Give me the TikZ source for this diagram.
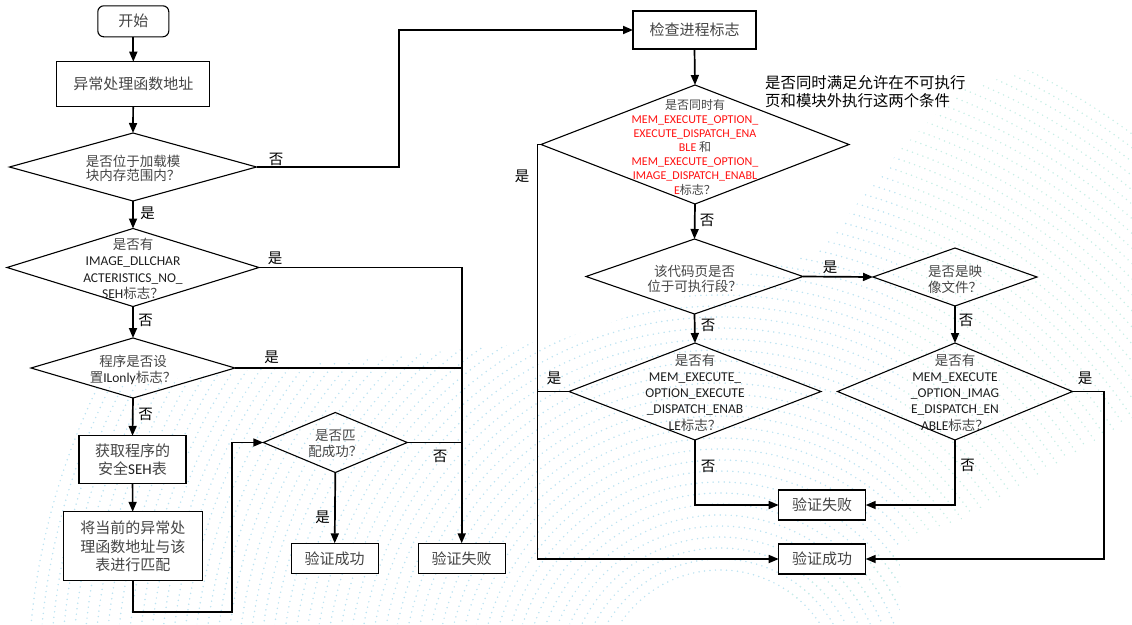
\documentclass[tikz,border=0pt]{standalone}
\usepackage{fontspec}
\setmainfont{Noto Sans CJK SC}
\newfontfamily\lat{Carlito}
\usetikzlibrary{shapes.geometric,arrows.meta}
\definecolor{txt}{HTML}{454545}
\definecolor{latc}{HTML}{1E1E1E}
\definecolor{redt}{HTML}{FF1010}
\definecolor{dotc}{HTML}{BDE3F2}
\definecolor{dott}{HTML}{C8EEE6}
\newcommand\en[1]{{\lat\color{latc}#1}}
\newcommand\rd[1]{{\lat\color{redt}#1}}
\tikzset{
  box/.style={draw=black, line width=1.1pt, fill=white, inner sep=0pt, outer sep=0pt,
    text=txt, align=center, font=\fontsize{15}{18.2}\selectfont},
  dia/.style={draw=black, shape=diamond, line width=1.1pt, inner sep=0pt, outer sep=0pt},
  dtext/.style={text=txt, align=center, inner sep=0pt},
  lab/.style={text=black, inner sep=0pt, font=\fontsize{14.5}{16}\selectfont},
  conn/.style={draw=black, line width=1.7pt},
  arr/.style={conn, -{Triangle[length=10pt,width=8pt]}},
}
\begin{document}
\begin{tikzpicture}[x=1pt,y=-1pt]
\useasboundingbox (0,0) rectangle (1132,624);
% faint dotted background
\begin{scope}
\clip (0,400) -- (250,370) -- (560,340) -- (820,250) -- (900,150) -- (900,624) -- (560,624) -- (0,624) -- cycle;
\foreach \r in {120,131,...,700}{
  \draw[dotc, line width=1.7pt, line cap=round, dash pattern=on 0pt off 5.5pt] (720,690) circle[radius=\r];
}
\end{scope}
\begin{scope}
\clip (900,150) -- (960,90) -- (1132,40) -- (1132,420) -- (960,520) -- (760,600) -- (900,600) -- cycle;
\foreach \r in {120,131,...,700}{
  \draw[dott, line width=1.7pt, line cap=round, dash pattern=on 0pt off 5.5pt] (720,690) circle[radius=\r];
}
\end{scope}

% left column
\node[box, rounded corners=6pt, minimum width=71pt, minimum height=31pt] (start) at (133.3,21.3) {开始};
\node[box, minimum width=153pt, minimum height=45pt] (addr) at (133.3,84.2) {异常处理函数地址};
\node[dia, minimum width=247pt, minimum height=68pt] (d1) at (133,167) {};
\node[dtext, font=\fontsize{13.5}{14.5}\selectfont] (d1t) at (133,168.5) {是否位于加载模\\块内存范围内？};
\node[dia, minimum width=252pt, minimum height=78pt] (d2) at (133,267.5) {};
\node[dtext, font=\fontsize{13.5}{16.4}\selectfont] (d2t) at (133,269) {是否有\\\en{IMAGE\_DLLCHAR}\\\en{ACTERISTICS\_NO\_}\\\en{SEH}标志？};
\node[dia, minimum width=204pt, minimum height=60pt] (d3) at (133,368) {};
\node[dtext, font=\fontsize{13.5}{16}\selectfont] (d3t) at (133,369.5) {程序是否设\\置\en{ILonly}标志？};
\node[box, minimum width=107pt, minimum height=48pt] (getseh) at (132.5,459.8) {获取程序的\\安全\en{SEH}表};
\node[box, minimum width=139pt, minimum height=69pt] (match) at (132.8,546.3) {将当前的异常处\\理函数地址与该\\表进行匹配};
\node[dia, minimum width=144pt, minimum height=60pt] (d4) at (335.3,442.5) {};
\node[dtext, font=\fontsize{13.5}{15.7}\selectfont] (d4t) at (335.3,444) {是否匹\\配成功？};
\node[box, minimum width=87pt, minimum height=30pt] (ok1) at (334.7,558.3) {验证成功};
\node[box, minimum width=87pt, minimum height=30pt] (fail1) at (461.7,558.3) {验证失败};

% right part
\node[box, minimum width=123pt, minimum height=38pt] (check) at (694.5,30) {检查进程标志};
\node[dia, minimum width=308pt, minimum height=119pt] (d5) at (695,144.5) {};
\node[dtext, font=\fontsize{12}{14.17}\selectfont] (d5t) at (695,147) {是否同时有\\\rd{MEM\_EXECUTE\_OPTION\_}\\\rd{EXECUTE\_DISPATCH\_ENA}\\\rd{BLE} 和\\\rd{MEM\_EXECUTE\_OPTION\_}\\\rd{IMAGE\_DISPATCH\_ENABL}\\\rd{E}标志？};
\node[anchor=west, align=left, inner sep=0pt, text=black, font=\fontsize{15.4}{18.5}\selectfont] (note) at (765,91.5) {是否同时满足允许在不可执行\\页和模块外执行这两个条件};
\node[dia, minimum width=217pt, minimum height=75pt] (d6) at (694.5,276.5) {};
\node[dtext, font=\fontsize{13.5}{15}\selectfont] (d6t) at (694.5,279) {该代码页是否\\位于可执行段？};
\node[dia, minimum width=164pt, minimum height=58pt] (d7) at (955,277) {};
\node[dtext, font=\fontsize{13.5}{16}\selectfont] (d7t) at (955,279) {是否是映\\像文件？};
\node[dia, minimum width=252pt, minimum height=97pt] (d8) at (695,391.5) {};
\node[dtext, font=\fontsize{13.5}{16.2}\selectfont] (d8t) at (695,392.5) {是否有\\\en{MEM\_EXECUTE\_}\\\en{OPTION\_EXECUTE}\\\en{\_DISPATCH\_ENAB}\\\en{LE}标志？};
\node[dia, minimum width=235pt, minimum height=97pt] (d9) at (955,391.5) {};
\node[dtext, font=\fontsize{13.5}{16.2}\selectfont] (d9t) at (955,392.5) {是否有\\\en{MEM\_EXECUTE}\\\en{\_OPTION\_IMAG}\\\en{E\_DISPATCH\_EN}\\\en{ABLE}标志？};
\node[box, minimum width=87pt, minimum height=30pt] (fail2) at (822.2,505) {验证失败};
\node[box, minimum width=87pt, minimum height=30pt] (ok2) at (822.2,559) {验证成功};

% helper coordinates
\coordinate (c1) at (232.3,612.3);
\coordinate (c2) at (399,100);
\coordinate (c3) at (537.5,300);
\coordinate (c4) at (1104.3,450);

% connectors
\draw[arr] (start) -- (addr);
\draw[arr] (addr) -- (d1.north);
\draw[arr] (d1.south) -- (d2.north);
\draw[arr] (d2.south) -- (d3.north);
\draw[arr] (d3.south) -- (getseh.north);
\draw[arr] (getseh) -- (match);
\draw[arr] (match.south) |- (c1) |- (d4.west);
\draw[arr] (d4.south) -- (ok1.north);
\draw[arr] (d2.east) -| (fail1.north);
\draw[conn] (d3.east) -- (fail1.north |- d3.east);
\draw[conn] (d4.east) -- (fail1.north |- d4.east);
\draw[arr] (d1.east) -| (c2) |- (check.west);
\draw[arr] (check.south) -- (d5.north);
\draw[arr] (d5.west) -| (c3) |- (ok2.west);
\draw[conn] (d8.west) -- (c3 |- d8.west);
\draw[arr] (d5.south) -- (d6.north);
\draw[arr] (d6.east) -- (d7.west);
\draw[arr] (d6.south) -- (d8.north);
\draw[arr] (d7.south) -- (d9.north);
\draw[arr] (d8.south) |- (fail2.west);
\draw[arr] (d9.south) |- (fail2.east);
\draw[arr] (d9.east) -| (c4) |- (ok2.east);

% labels
\node[lab] (l1) at (276,159) {否};
\node[lab] (l2) at (147.7,213) {是};
\node[lab] (l3) at (275,258) {是};
\node[lab] (l4) at (145.7,320.7) {否};
\node[lab] (l5) at (271.7,357.3) {是};
\node[lab] (l6) at (145.7,414) {否};
\node[lab] (l7) at (440,456.7) {否};
\node[lab] (l8) at (322.7,517.3) {是};
\node[lab] (l9) at (522,176) {是};
\node[lab] (l10) at (707,220) {否};
\node[lab] (l11) at (830,267) {是};
\node[lab] (l12) at (708,325) {否};
\node[lab] (l13) at (966,320) {否};
\node[lab] (l14) at (554,378) {是};
\node[lab] (l15) at (1085,378) {是};
\node[lab] (l16) at (708,466.7) {否};
\node[lab] (l17) at (967.7,465) {否};
\end{tikzpicture}
\end{document}
